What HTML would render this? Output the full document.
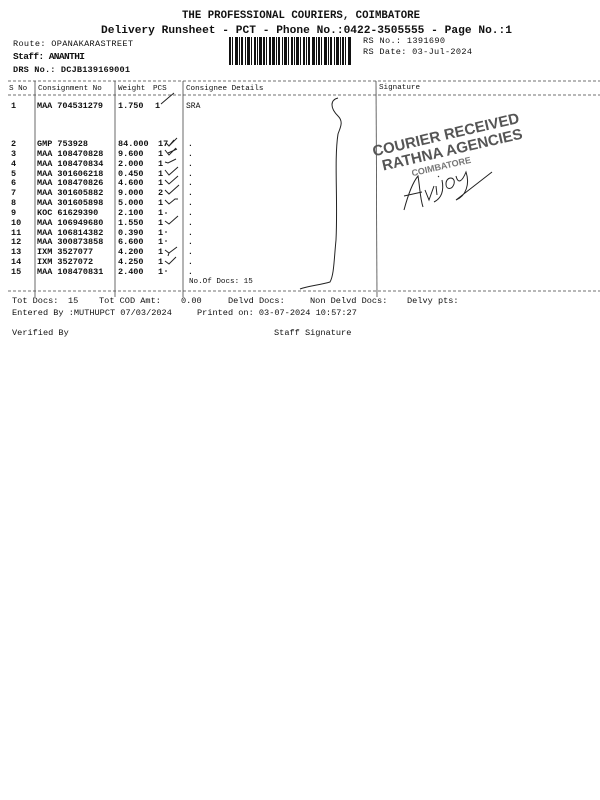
<!DOCTYPE html>
<html><head><meta charset="utf-8"><style>
html,body{margin:0;padding:0;background:#fff;}
svg{display:block}
text{font-family:"Liberation Mono",monospace;fill:#111}
.b{font-weight:bold}
</style></head><body>
<svg width="600" height="800" viewBox="0 0 600 800" xmlns="http://www.w3.org/2000/svg">
<rect width="600" height="800" fill="#fff"/>
<text x="182" y="18" class="b" font-size="10.7" textLength="238">THE PROFESSIONAL COURIERS, COIMBATORE</text>
<text x="101" y="33" class="b" font-size="11.2" textLength="411">Delivery Runsheet - PCT - Phone No.:0422-3505555 - Page No.:1</text>
<text x="13" y="46" font-size="8.6" textLength="120">Route: OPANAKARASTREET</text>
<text x="13" y="59" class="b" font-size="9.5" textLength="72">Staff: ANANTHI</text>
<text x="13" y="72" class="b" font-size="8.6" textLength="117">DRS No.: DCJB139169001</text>
<g fill="#111">
<rect x="229" y="37" width="2" height="28"/><rect x="232" y="37" width="1" height="28"/><rect x="235" y="37" width="3" height="28"/><rect x="239" y="37" width="1" height="28"/><rect x="241" y="37" width="2" height="28"/><rect x="245" y="37" width="1" height="28"/><rect x="247" y="37" width="3" height="28"/><rect x="251" y="37" width="1" height="28"/><rect x="254" y="37" width="2" height="28"/><rect x="257" y="37" width="1" height="28"/><rect x="259" y="37" width="3" height="28"/><rect x="263" y="37" width="2" height="28"/><rect x="266" y="37" width="1" height="28"/><rect x="269" y="37" width="2" height="28"/><rect x="272" y="37" width="3" height="28"/><rect x="276" y="37" width="1" height="28"/><rect x="278" y="37" width="2" height="28"/><rect x="282" y="37" width="1" height="28"/><rect x="284" y="37" width="3" height="28"/><rect x="288" y="37" width="1" height="28"/><rect x="291" y="37" width="2" height="28"/><rect x="294" y="37" width="1" height="28"/><rect x="296" y="37" width="3" height="28"/><rect x="300" y="37" width="1" height="28"/><rect x="303" y="37" width="2" height="28"/><rect x="306" y="37" width="1" height="28"/><rect x="308" y="37" width="2" height="28"/><rect x="312" y="37" width="3" height="28"/><rect x="316" y="37" width="1" height="28"/><rect x="318" y="37" width="2" height="28"/><rect x="321" y="37" width="1" height="28"/><rect x="324" y="37" width="3" height="28"/><rect x="328" y="37" width="1" height="28"/><rect x="330" y="37" width="2" height="28"/><rect x="334" y="37" width="1" height="28"/><rect x="336" y="37" width="3" height="28"/><rect x="340" y="37" width="1" height="28"/><rect x="342" y="37" width="2" height="28"/><rect x="345" y="37" width="1" height="28"/><rect x="348" y="37" width="3" height="28"/>
</g>
<text x="363" y="43" font-size="8.6" textLength="82">RS No.: 1391690</text>
<text x="363" y="54" font-size="8.6" textLength="109">RS Date: 03-Jul-2024</text>
<g stroke="#444" stroke-width="0.8" stroke-dasharray="3,2" fill="none">
<line x1="8" y1="81" x2="600" y2="81"/>
<line x1="8" y1="95" x2="600" y2="95"/>
<line x1="8" y1="291" x2="600" y2="291"/>
</g>
<g stroke="#444" stroke-width="0.8">
<line x1="35" y1="81" x2="35" y2="297"/>
<line x1="115" y1="81" x2="115" y2="297"/>
<line x1="183" y1="81" x2="183" y2="297"/>
<line x1="376" y1="81" x2="377" y2="297"/>
</g>
<g font-size="7.6">
<text x="9" y="90">S No</text><text x="38" y="90">Consignment No</text><text x="118" y="90">Weight</text><text x="153" y="90">PCS</text><text x="186" y="90">Consignee Details</text><text x="379" y="89">Signature</text>
</g>
<g class="b" font-size="8.5">
<text x="11" y="108">1</text><text x="37" y="108" textLength="66">MAA 704531279</text><text x="118" y="108">1.750</text><text x="155" y="108">1</text>
</g>
<text x="186" y="108" font-size="8">SRA</text>
<g font-size="8.5" font-weight="bold">
<text x="11" y="146">2</text><text x="37" y="146">GMP 753928</text><text x="118" y="146">84.000</text><text x="158" y="146">17</text>
<text x="11" y="156">3</text><text x="37" y="156">MAA 108470828</text><text x="118" y="156">9.600</text><text x="158" y="156">1</text>
<text x="11" y="166">4</text><text x="37" y="166">MAA 108470834</text><text x="118" y="166">2.000</text><text x="158" y="166">1</text>
<text x="11" y="176">5</text><text x="37" y="176">MAA 301606218</text><text x="118" y="176">0.450</text><text x="158" y="176">1</text>
<text x="11" y="185">6</text><text x="37" y="185">MAA 108470826</text><text x="118" y="185">4.600</text><text x="158" y="185">1</text>
<text x="11" y="195">7</text><text x="37" y="195">MAA 301605882</text><text x="118" y="195">9.000</text><text x="158" y="195">2</text>
<text x="11" y="205">8</text><text x="37" y="205">MAA 301605898</text><text x="118" y="205">5.000</text><text x="158" y="205">1</text>
<text x="11" y="215">9</text><text x="37" y="215">KOC 61629390</text><text x="118" y="215">2.100</text><text x="158" y="215">1</text>
<text x="11" y="225">10</text><text x="37" y="225">MAA 106949680</text><text x="118" y="225">1.550</text><text x="158" y="225">1</text>
<text x="11" y="235">11</text><text x="37" y="235">MAA 106814382</text><text x="118" y="235">0.390</text><text x="158" y="235">1</text>
<text x="11" y="244">12</text><text x="37" y="244">MAA 300873858</text><text x="118" y="244">6.600</text><text x="158" y="244">1</text>
<text x="11" y="254">13</text><text x="37" y="254">IXM 3527077</text><text x="118" y="254">4.200</text><text x="158" y="254">1</text>
<text x="11" y="264">14</text><text x="37" y="264">IXM 3527072</text><text x="118" y="264">4.250</text><text x="158" y="264">1</text>
<text x="11" y="274">15</text><text x="37" y="274">MAA 108470831</text><text x="118" y="274">2.400</text><text x="158" y="274">1</text>
</g>
<g font-size="8" font-weight="bold">
<text x="188" y="146">.</text><text x="188" y="156">.</text><text x="188" y="166">.</text><text x="188" y="176">.</text><text x="188" y="185">.</text><text x="188" y="195">.</text><text x="188" y="205">.</text><text x="188" y="215">.</text><text x="188" y="225">.</text><text x="188" y="235">.</text><text x="188" y="244">.</text><text x="188" y="254">.</text><text x="188" y="264">.</text><text x="188" y="274">.</text>
</g>
<text x="189" y="283" font-size="7.6">No.Of Docs: 15</text>
<g stroke="#222" stroke-width="1" fill="none">
<path d="M161 104 L168 98 L174 93"/>
<path d="M166 143 l3 3 l5 -6 M169 146 l8 -8"/>
<path d="M165 150 l4 5 l7 -7 M168 153 l9 -4"/>
<path d="M165 162 l3 1 l8 -4"/>
<path d="M165 170 l4 5 l9 -8"/>
<path d="M165 180 l4 4 l9 -8"/>
<path d="M165 190 l4 4 l10 -9"/>
<path d="M165 200 l4 4 l6 -5 l3 0"/>
<path d="M165 213 l2 0"/>
<path d="M165 221 l4 3 l9 -8"/>
<path d="M165 232 l2 0"/>
<path d="M165 241 l2 0"/>
<path d="M165 250 l4 3 l8 -6 M169 253 l-1 3"/>
<path d="M165 261 l4 3 l7 -7"/>
<path d="M165 271 l2 0"/>
<path d="M338 98 C330 100 330 108 338 116 C344 122 340 128 338 134 C334 160 338 200 336 240 C334 260 334 275 330 282 C320 285 308 286 300 289"/>
<path d="M404 210 C408 195 413 182 418 176 C420 188 420 198 423 207 M404 196 L422 192 M425 190 L429 200 L434 186 M436 186 L437 195 M438 176 l1 1 M442 180 C444 190 442 198 434 202 M446 184 C446 176 456 176 454 184 C452 190 446 190 446 184 M456 176 C458 184 462 182 466 172 C470 184 466 196 456 200 L492 172"/>
</g>
<g transform="rotate(-13 445 140)" font-weight="bold">
<text x="372" y="140" font-size="15" style="font-family:'Liberation Sans',sans-serif;fill:#555">COURIER RECEIVED</text>
<text x="378" y="156" font-size="15" style="font-family:'Liberation Sans',sans-serif;fill:#555">RATHNA AGENCIES</text>
<text x="405" y="168" font-size="9" style="font-family:'Liberation Sans',sans-serif;fill:#777">COIMBATORE</text>
</g>
<g font-size="8.6">
<text x="12" y="303">Tot Docs:</text><text x="68" y="303">15</text><text x="99" y="303">Tot COD Amt:</text><text x="181" y="303">0.00</text><text x="228" y="303">Delvd Docs:</text><text x="310" y="303">Non Delvd Docs:</text><text x="407" y="303">Delvy pts:</text>
<text x="12" y="315">Entered By :MUTHUPCT 07/03/2024</text><text x="197" y="315">Printed on: 03-07-2024 10:57:27</text>
<text x="12" y="335">Verified By</text><text x="274" y="335">Staff Signature</text>
</g>
</svg>
</body></html>
